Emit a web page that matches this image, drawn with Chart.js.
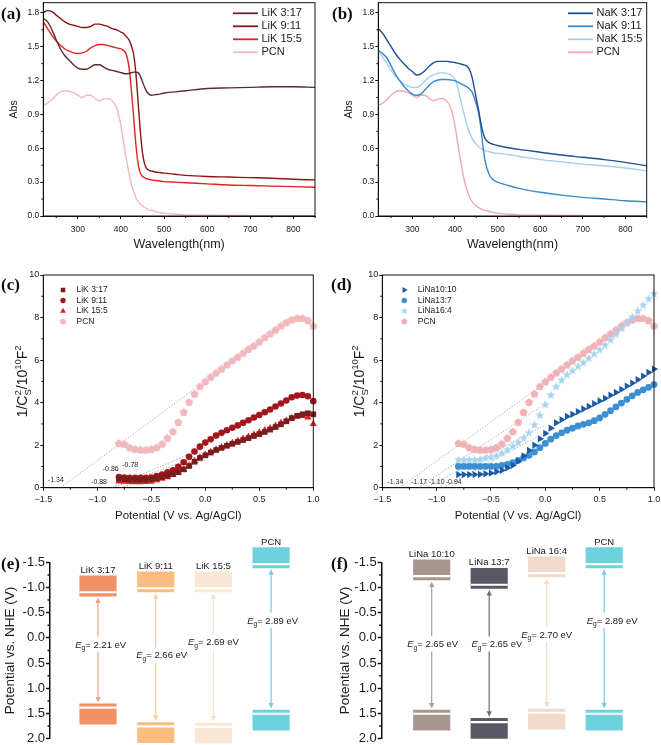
<!DOCTYPE html>
<html>
<head>
  <meta charset="utf-8">
  <title>Absorption spectra, Mott-Schottky plots and band positions</title>
  <script src="https://cdn.jsdelivr.net/npm/chart.js"></script>
  <style>
    body { margin: 0; background: #fff; }
    #figure { position: relative; width: 661px; height: 745px; overflow: hidden; background: #fff; }
    #figure canvas { position: absolute; }
    .tag { position: absolute; font: bold 17px/17px "Liberation Serif", "Times New Roman", serif; color: #111; }
  </style>
</head>
<body>
  <div id="figure">
    <canvas id="chartA" width="330" height="252" style="left:0;top:0"></canvas>
    <canvas id="chartB" width="331" height="252" style="left:330px;top:0"></canvas>
    <canvas id="chartC" width="330" height="275" style="left:0;top:250px"></canvas>
    <canvas id="chartD" width="331" height="275" style="left:330px;top:250px"></canvas>
    <canvas id="chartE" width="330" height="227" style="left:0;top:518px"></canvas>
    <canvas id="chartF" width="331" height="227" style="left:330px;top:518px"></canvas>
    <div class="tag" style="left:1px;top:5px">(a)</div>
    <div class="tag" style="left:332px;top:5px">(b)</div>
    <div class="tag" style="left:1px;top:276px">(c)</div>
    <div class="tag" style="left:331px;top:276px">(d)</div>
    <div class="tag" style="left:1px;top:555px">(e)</div>
    <div class="tag" style="left:331px;top:555px">(f)</div>
  </div>

  <script>
    // ---- UV-vis absorption (a, b) ----
    const wavelength = [220, 230, 240, 250, 260, 270, 280, 290, 300, 310, 320, 330, 340, 350, 360, 370, 380, 390, 400,
      405, 410, 415, 420, 425, 430, 435, 440, 445, 450, 455, 460, 465, 470, 480, 490, 500, 525, 550, 600, 650, 700, 750, 800, 850];
    const absLiK317 = [1.75, 1.72, 1.65, 1.56, 1.48, 1.42, 1.38, 1.34, 1.31, 1.30, 1.30, 1.32, 1.34, 1.34, 1.32, 1.30, 1.29, 1.28, 1.27,
      1.265, 1.26, 1.26, 1.265, 1.27, 1.275, 1.275, 1.27, 1.24, 1.19, 1.14, 1.10, 1.08, 1.07, 1.075, 1.08, 1.09, 1.10, 1.11, 1.13, 1.135, 1.14, 1.145, 1.145, 1.14];
    const absLiK911 = [1.80, 1.82, 1.81, 1.78, 1.75, 1.72, 1.70, 1.69, 1.68, 1.67, 1.67, 1.68, 1.70, 1.70, 1.69, 1.68, 1.66, 1.65, 1.63,
      1.62, 1.60, 1.58, 1.55, 1.50, 1.42, 1.25, 1.00, 0.75, 0.56, 0.46, 0.42, 0.405, 0.40, 0.39, 0.385, 0.38, 0.37, 0.36, 0.35, 0.345, 0.34, 0.335, 0.325, 0.32];
    const absLiK155 = [1.72, 1.66, 1.60, 1.55, 1.51, 1.48, 1.46, 1.445, 1.44, 1.445, 1.46, 1.49, 1.51, 1.52, 1.52, 1.51, 1.50, 1.49, 1.48,
      1.47, 1.45, 1.40, 1.28, 1.08, 0.85, 0.62, 0.46, 0.38, 0.35, 0.34, 0.33, 0.325, 0.32, 0.315, 0.31, 0.305, 0.30, 0.295, 0.285, 0.275, 0.27, 0.265, 0.26, 0.255];
    const absPCN = [0.98, 1.00, 1.03, 1.07, 1.10, 1.11, 1.105, 1.09, 1.07, 1.05, 1.07, 1.07, 1.04, 1.02, 1.035, 1.04, 1.02, 0.96, 0.80,
      0.68, 0.56, 0.45, 0.35, 0.27, 0.21, 0.16, 0.13, 0.105, 0.09, 0.075, 0.065, 0.055, 0.05, 0.04, 0.03, 0.025, 0.015, 0.01, 0.007, 0.005, 0.004, 0.003, 0.003, 0.003];
    const absNaK317 = [1.66, 1.62, 1.56, 1.50, 1.44, 1.39, 1.35, 1.31, 1.28, 1.25, 1.26, 1.29, 1.33, 1.36, 1.37, 1.37, 1.37, 1.365, 1.36,
      1.355, 1.35, 1.345, 1.34, 1.335, 1.32, 1.29, 1.23, 1.14, 1.04, 0.95, 0.84, 0.75, 0.69, 0.65, 0.635, 0.625, 0.605, 0.59, 0.565, 0.54, 0.52, 0.50, 0.475, 0.445];
    const absNaK911 = [1.47, 1.44, 1.40, 1.33, 1.26, 1.20, 1.15, 1.11, 1.08, 1.07, 1.08, 1.12, 1.16, 1.19, 1.205, 1.21, 1.21, 1.205, 1.20,
      1.19, 1.18, 1.17, 1.16, 1.15, 1.14, 1.12, 1.10, 1.05, 0.99, 0.92, 0.80, 0.64, 0.50, 0.37, 0.32, 0.30, 0.27, 0.245, 0.21, 0.185, 0.165, 0.15, 0.135, 0.125];
    const absNaK155 = [1.46, 1.41, 1.35, 1.29, 1.24, 1.20, 1.17, 1.15, 1.14, 1.14, 1.16, 1.20, 1.23, 1.25, 1.265, 1.27, 1.265, 1.25, 1.21,
      1.16, 1.08, 1.00, 0.92, 0.85, 0.78, 0.73, 0.69, 0.66, 0.635, 0.615, 0.60, 0.59, 0.58, 0.57, 0.56, 0.555, 0.545, 0.53, 0.50, 0.48, 0.46, 0.445, 0.425, 0.40];

    // ---- Mott-Schottky (c, d) ----
    const potential = [-0.80, -0.75, -0.70, -0.65, -0.60, -0.55, -0.50, -0.45, -0.40, -0.35, -0.30, -0.25, -0.20, -0.15, -0.10, -0.05,
      0.00, 0.05, 0.10, 0.15, 0.20, 0.25, 0.30, 0.35, 0.40, 0.45, 0.50, 0.55, 0.60, 0.65, 0.70, 0.75, 0.80, 0.85, 0.90, 0.95, 1.00];
    const msPCN = [2.08, 2.04, 1.87, 1.80, 1.77, 1.77, 1.80, 1.88, 2.05, 2.32, 2.63, 3.07, 3.54, 4.01, 4.40, 4.75,
      4.98, 5.19, 5.39, 5.58, 5.77, 5.96, 6.13, 6.32, 6.50, 6.66, 6.85, 7.05, 7.23, 7.41, 7.60, 7.76, 7.88, 7.96, 7.96, 7.85, 7.60];
    const msLiK317 = [0.42, 0.40, 0.38, 0.37, 0.37, 0.38, 0.40, 0.45, 0.50, 0.57, 0.64, 0.73, 0.86, 1.02, 1.22, 1.40,
      1.52, 1.65, 1.77, 1.87, 1.97, 2.06, 2.15, 2.24, 2.33, 2.43, 2.52, 2.62, 2.73, 2.85, 2.98, 3.12, 3.27, 3.38, 3.45, 3.50, 3.45];
    const msLiK911 = [0.50, 0.48, 0.47, 0.46, 0.46, 0.47, 0.48, 0.55, 0.62, 0.72, 0.82, 0.98, 1.20, 1.45, 1.70, 1.93,
      2.12, 2.28, 2.45, 2.58, 2.70, 2.82, 2.93, 3.05, 3.17, 3.30, 3.42, 3.55, 3.68, 3.82, 3.96, 4.10, 4.25, 4.33, 4.36, 4.30, 4.07];
    const msLiK155 = [0.30, 0.28, 0.27, 0.26, 0.26, 0.27, 0.28, 0.35, 0.42, 0.50, 0.60, 0.72, 0.85, 1.05, 1.25, 1.42,
      1.55, 1.68, 1.80, 1.90, 2.00, 2.10, 2.20, 2.30, 2.40, 2.50, 2.60, 2.70, 2.80, 2.92, 3.05, 3.15, 3.28, 3.35, 3.38, 3.30, 3.00];
    const msLiNa1010 = [0.62, 0.62, 0.62, 0.62, 0.63, 0.65, 0.68, 0.75, 0.82, 0.93, 1.05, 1.25, 1.50, 1.75, 2.00, 2.30,
      2.55, 2.80, 3.05, 3.20, 3.35, 3.45, 3.58, 3.70, 3.82, 3.95, 4.08, 4.20, 4.35, 4.48, 4.62, 4.78, 4.92, 5.08, 5.25, 5.42, 5.58];
    const msLiNa137 = [1.00, 1.00, 1.00, 1.00, 1.00, 1.00, 1.00, 1.00, 1.05, 1.10, 1.18, 1.28, 1.40, 1.52, 1.68, 1.88,
      2.08, 2.28, 2.45, 2.58, 2.70, 2.80, 2.90, 2.98, 3.05, 3.15, 3.28, 3.45, 3.62, 3.80, 3.98, 4.15, 4.32, 4.48, 4.60, 4.72, 4.85];
    const msLiNa164 = [1.30, 1.30, 1.30, 1.30, 1.32, 1.38, 1.42, 1.50, 1.62, 1.78, 1.95, 2.12, 2.32, 2.58, 2.95, 3.40,
      3.90, 4.35, 4.75, 5.05, 5.30, 5.50, 5.70, 5.88, 6.08, 6.28, 6.48, 6.70, 6.95, 7.20, 7.48, 7.75, 8.02, 8.30, 8.58, 8.88, 9.12];
    // linear fits: [x, y] start and end
    const fitsC = [[[-1.34, 0], [-0.10, 4.65]], [[-0.88, 0], [0.0, 1.9]], [[-0.86, 0], [0.0, 1.6]], [[-0.78, 0], [0.0, 1.3]]];
    const fitsD = [[[-1.34, 0], [-0.05, 4.75]], [[-1.17, 0], [0.0, 3.95]], [[-1.10, 0], [0.0, 2.95]], [[-0.94, 0], [0.05, 2.75]]];

    // ---- band positions (e, f), V vs NHE ----
    const namesE = ['LiK 3:17', 'LiK 9:11', 'LiK 15:5', 'PCN'];
    const cbE = [-0.83, -0.91, -0.91, -1.39];
    const vbE = [1.31, 1.68, 1.69, 1.43];
    const egE = ['2.21', '2.66', '2.69', '2.89'];
    const namesF = ['LiNa 10:10', 'LiNa 13:7', 'LiNa 16:4', 'PCN'];
    const cbF = [-1.15, -0.98, -1.21, -1.39];
    const vbF = [1.43, 1.595, 1.41, 1.43];
    const egF = ['2.65', '2.65', '2.70', '2.89'];

    // ---- tick labels ----
    const wlTicks = [300, 400, 500, 600, 700, 800];
    const absTicks = [0, 0.3, 0.6, 0.9, 1.2, 1.5, 1.8];
    const potTicks = [-1.5, -1.0, -0.5, 0, 0.5, 1.0];
    const capTicks = [0, 2, 4, 6, 8, 10];
    const nheTicks = [-1.5, -1.0, -0.5, 0, 0.5, 1.0, 1.5, 2.0];

    const FONT = "'Liberation Sans', Arial, Helvetica, sans-serif";
    const BAND_DEPTH = 0.4, EDGE = 0.06, EDGE_W = 0.03;
    Chart.defaults.animation = false;
    Chart.defaults.events = [];
    Chart.defaults.font.family = FONT;
    Chart.defaults.color = '#1a1a1a';
    Chart.defaults.plugins.legend.display = false;
    Chart.defaults.plugins.tooltip.enabled = false;

    function axis(o) {
      return {
        type: 'linear', min: o.min, max: o.max, reverse: !!o.reverse, offset: false,
        afterBuildTicks: s => { s.ticks = o.ticks.map(v => ({ value: v })); },
        afterFit: s => {
          if (s.isHorizontal()) s.height = o.size; else s.width = o.size;
          s.paddingLeft = s.paddingRight = s.paddingTop = s.paddingBottom = 0;
        },
        grid: { drawOnChartArea: false, drawTicks: true, tickLength: o.tick || 3, tickWidth: o.lw || 1, tickColor: '#111' },
        border: { display: true, color: '#111', width: o.lw || 1 },
        ticks: { padding: o.pad, autoSkip: false, maxRotation: 0, color: '#1a1a1a', font: { size: o.font }, callback: o.fmt },
        title: o.title ? { display: true, text: o.title, color: '#1a1a1a', font: { size: o.titleSize }, padding: o.titlePad } : { display: false }
      };
    }
    const minus = v => v.toFixed(1).replace('-', '\u2212');

    // small shapes for markers Chart.js lacks
    function makeShape(n, outer, inner, color) {
      const size = Math.ceil(outer * 2 + 2);
      const c = document.createElement('canvas');
      c.width = size; c.height = size;
      const g = c.getContext('2d');
      g.fillStyle = color;
      g.beginPath();
      const k = inner ? n * 2 : n;
      for (let i = 0; i < k; i++) {
        const r = inner && i % 2 ? inner : outer;
        const a = -Math.PI / 2 + i * 2 * Math.PI / k;
        g.lineTo(size / 2 + r * Math.cos(a), size / 2 + r * Math.sin(a));
      }
      g.closePath();
      g.fill();
      return c;
    }

    function drawMarker(ctx, ds, x, y, k) {
      const style = ds.pointStyle, r = ds.pointRadius * k;
      ctx.save();
      ctx.translate(x, y);
      ctx.rotate((ds.pointRotation || 0) * Math.PI / 180);
      ctx.fillStyle = ds.backgroundColor;
      ctx.beginPath();
      if (style instanceof HTMLCanvasElement) {
        ctx.drawImage(style, -style.width * k / 2, -style.height * k / 2, style.width * k, style.height * k);
      } else if (style === 'rect') {
        ctx.rect(-r * 0.707, -r * 0.707, r * 1.414, r * 1.414); ctx.fill();
      } else if (style === 'triangle') {
        for (let i = 0; i < 3; i++) { const a = i * 2 * Math.PI / 3; ctx.lineTo(r * Math.sin(a), -r * Math.cos(a)); }
        ctx.closePath(); ctx.fill();
      } else {
        ctx.arc(0, 0, r, 0, 2 * Math.PI); ctx.fill();
      }
      ctx.restore();
    }

    // ---- plugins ----
    const frame = () => ({
      id: 'frame',
      afterDatasetsDraw(chart) {
        const { ctx, chartArea: a } = chart;
        ctx.save(); ctx.strokeStyle = '#111'; ctx.lineWidth = 1;
        ctx.strokeRect(a.left, a.top, a.right - a.left, a.bottom - a.top);
        ctx.restore();
      }
    });

    const minorTicks = (len, width) => ({
      id: 'minorTicks',
      afterDraw(chart) {
        const { ctx, chartArea: a } = chart;
        ctx.save(); ctx.strokeStyle = '#111'; ctx.lineWidth = width;
        ['x', 'y'].forEach(id => {
          const sc = chart.scales[id];
          if (!sc || !len[id]) return;
          const t = sc.ticks.map(k => k.value), step = t[1] - t[0];
          ctx.beginPath();
          for (let v = t[0] - step / 2; v <= sc.max + 1e-9; v += step) {
            if (v < sc.min - 1e-9) continue;
            const p = sc.getPixelForValue(v);
            if (id === 'x') { ctx.moveTo(p, a.bottom); ctx.lineTo(p, a.bottom + len.x); }
            else { ctx.moveTo(a.left, p); ctx.lineTo(a.left - len.y, p); }
          }
          ctx.stroke();
        });
        ctx.restore();
      }
    });

    const boxLegend = cfg => ({
      id: 'boxLegend',
      afterDraw(chart) {
        const ctx = chart.ctx;
        ctx.save();
        ctx.font = cfg.font + 'px ' + FONT;
        ctx.textBaseline = 'middle'; ctx.textAlign = 'left';
        let row = 0;
        chart.data.datasets.forEach(ds => {
          if (!ds.label) return;
          const y = cfg.y + row * cfg.dy;
          if (cfg.kind === 'line') {
            ctx.strokeStyle = ds.borderColor; ctx.lineWidth = 1.8;
            ctx.beginPath(); ctx.moveTo(cfg.x0, y); ctx.lineTo(cfg.x1, y); ctx.stroke();
          } else {
            drawMarker(ctx, ds, cfg.x0, y, cfg.k);
          }
          ctx.fillStyle = '#1a1a1a';
          ctx.fillText(ds.label, cfg.tx, y);
          row++;
        });
        ctx.restore();
      }
    });

    const valueNotes = (notes, size) => ({
      id: 'valueNotes',
      afterDatasetsDraw(chart) {
        const { ctx, scales: { x, y } } = chart;
        ctx.save(); ctx.font = size + 'px ' + FONT; ctx.fillStyle = '#222';
        ctx.textAlign = 'center'; ctx.textBaseline = 'middle';
        notes.forEach(n => ctx.fillText(n.t, x.getPixelForValue(n.x), y.getPixelForValue(n.y)));
        ctx.restore();
      }
    });

    // 1/C_S^2 / 10^10 F^2 written with super- and subscripts
    const capTitle = (cx, size) => ({
      id: 'capTitle',
      afterDraw(chart) {
        const ctx = chart.ctx, a = chart.chartArea;
        const big = size + 'px ' + FONT, lit = (size * 0.68) + 'px ' + FONT;
        const parts = [['1/C', big, 0], ['2', lit, -0.42, 'S'], ['/10', big, 0], ['10', lit, -0.42], ['F', big, 0], ['2', lit, -0.42]];
        ctx.save();
        let total = 0;
        const widths = parts.map(p => {
          ctx.font = p[1];
          let w = ctx.measureText(p[0]).width;
          if (p[3]) w = Math.max(w, ctx.measureText(p[3]).width);
          total += w;
          return w;
        });
        ctx.translate(cx, (a.top + a.bottom) / 2);
        ctx.rotate(-Math.PI / 2);
        ctx.fillStyle = '#1a1a1a'; ctx.textAlign = 'left'; ctx.textBaseline = 'alphabetic';
        let x = -total / 2;
        const base = size * 0.36;
        parts.forEach((p, i) => {
          ctx.font = p[1];
          ctx.fillText(p[0], x, base + p[2] * size);
          if (p[3]) ctx.fillText(p[3], x, base + size * 0.25);
          x += widths[i];
        });
        ctx.restore();
      }
    });

    function drawEg(ctx, cx, cy, value, size) {
      const rest = '= ' + value + ' eV';
      ctx.font = 'italic ' + size + 'px ' + FONT; const wE = ctx.measureText('E').width;
      ctx.font = (size * 0.7) + 'px ' + FONT; const wG = ctx.measureText('g').width;
      ctx.font = size + 'px ' + FONT; const wR = ctx.measureText(rest).width;
      const total = wE + wG + wR;
      let x = cx - total / 2;
      ctx.fillStyle = '#fff';
      ctx.fillRect(x - 1, cy - size * 0.8, total + 2, size * 1.6);
      ctx.fillStyle = '#1a1a1a'; ctx.textAlign = 'left'; ctx.textBaseline = 'alphabetic';
      const base = cy + size * 0.35;
      ctx.font = 'italic ' + size + 'px ' + FONT; ctx.fillText('E', x, base); x += wE;
      ctx.font = (size * 0.7) + 'px ' + FONT; ctx.fillText('g', x, base + size * 0.28); x += wG;
      ctx.font = size + 'px ' + FONT; ctx.fillText(rest, x, base);
    }

    const bandNotes = cfg => ({
      id: 'bandNotes',
      afterDatasetsDraw(chart) {
        const { ctx, scales: { x, y } } = chart;
        ctx.save();
        cfg.names.forEach((name, i) => {
          const cx = x.getPixelForValue(i);
          const top = y.getPixelForValue(cfg.cb[i] - BAND_DEPTH);
          ctx.fillStyle = '#1a1a1a'; ctx.font = cfg.nameSize + 'px ' + FONT;
          ctx.textAlign = 'center'; ctx.textBaseline = 'bottom';
          ctx.fillText(name, cx, top - 1);
          const y1 = y.getPixelForValue(cfg.cb[i]) + 1.5, y2 = y.getPixelForValue(cfg.vb[i]) - 1.5;
          ctx.strokeStyle = cfg.arrows[i]; ctx.fillStyle = cfg.arrows[i]; ctx.lineWidth = 1.2;
          ctx.beginPath(); ctx.moveTo(cx, y1 + 5); ctx.lineTo(cx, y2 - 5); ctx.stroke();
          ctx.beginPath(); ctx.moveTo(cx, y1); ctx.lineTo(cx - 2.6, y1 + 5.5); ctx.lineTo(cx + 2.6, y1 + 5.5); ctx.closePath(); ctx.fill();
          ctx.beginPath(); ctx.moveTo(cx, y2); ctx.lineTo(cx - 2.6, y2 - 5.5); ctx.lineTo(cx + 2.6, y2 - 5.5); ctx.closePath(); ctx.fill();
          drawEg(ctx, cx + cfg.dx[i], y.getPixelForValue(cfg.at[i]), cfg.eg[i], cfg.egSize);
        });
        ctx.restore();
      }
    });

    // ---- dataset builders ----
    function lineSet(label, ys, color) {
      return { label, data: wavelength.map((x, i) => ({ x, y: ys[i] })), borderColor: color, backgroundColor: color,
        borderWidth: 1.4, pointRadius: 0, cubicInterpolationMode: 'monotone', fill: false };
    }
    function pointSet(label, ys, shape, radius, color, rotation) {
      return { label, data: potential.map((x, i) => ({ x, y: ys[i] })), pointStyle: shape, pointRadius: radius,
        pointRotation: rotation || 0, backgroundColor: color, pointBackgroundColor: color, borderWidth: 0, pointBorderWidth: 0, clip: false };
    }
    function fitSet(seg) {
      return { data: seg.map(p => ({ x: p[0], y: p[1] })), showLine: true, borderColor: '#8f8f8f', borderWidth: 0.8,
        borderDash: [1.2, 1.8], pointRadius: 0 };
    }
    function bandSets(cb, vb, colors) {
      const idx = cb.map((_, i) => i);
      const bar = (vals, color, order) => ({ data: vals, backgroundColor: color, order, grouped: false, barThickness: 36.5, clip: false, borderWidth: 0 });
      return [
        bar(idx.map(i => ({ x: i, y: [cb[i] - EDGE - EDGE_W, cb[i] - EDGE] })), '#ffffff', 0),
        bar(idx.map(i => ({ x: i, y: [vb[i] + EDGE, vb[i] + EDGE + EDGE_W] })), '#ffffff', 0),
        bar(idx.map(i => ({ x: i, y: [cb[i] - BAND_DEPTH, cb[i]] })), colors, 1),
        bar(idx.map(i => ({ x: i, y: [vb[i], vb[i] + BAND_DEPTH] })), colors, 1)
      ];
    }

    function absChart(id, sets, yAxisWidth, rightPad, titlePad, legendX) {
      new Chart(document.getElementById(id), {
        type: 'line',
        data: { datasets: sets },
        options: {
          responsive: false, devicePixelRatio: 1,
          layout: { padding: { left: 0, top: 2.7, right: rightPad, bottom: 0 }, autoPadding: false },
          scales: {
            x: axis({ min: 220, max: 850, ticks: wlTicks, size: 36, pad: 6, font: 8.5, fmt: v => String(v),
              title: 'Wavelength(nm)', titleSize: 12.5, titlePad: { top: 0, bottom: 0 } }),
            y: axis({ min: 0, max: 1.89, ticks: absTicks, size: yAxisWidth, pad: 1, font: 8.5, fmt: v => v.toFixed(1),
              title: 'Abs', titleSize: 10.5, titlePad: { top: titlePad, bottom: 0 } })
          }
        },
        plugins: [frame(), minorTicks({ x: 2, y: 2 }, 1), boxLegend({ kind: 'line', x0: legendX, x1: legendX + 25, tx: legendX + 28.5, y: 13.3, dy: 13, font: 11 })]
      });
    }

    function msChart(id, sets, yAxisWidth, rightPad, notes, legendX, titleX) {
      new Chart(document.getElementById(id), {
        type: 'scatter',
        data: { datasets: sets },
        options: {
          responsive: false, devicePixelRatio: 1,
          layout: { padding: { left: 0, top: 25, right: rightPad, bottom: 0 }, autoPadding: false },
          scales: {
            x: axis({ min: -1.5, max: 1.0, ticks: potTicks, size: 37.3, pad: 3, font: 9, fmt: minus,
              title: 'Potential (V vs. Ag/AgCl)', titleSize: 11.5, titlePad: { top: 0, bottom: 2 } }),
            y: axis({ min: 0, max: 10, ticks: capTicks, size: yAxisWidth, pad: 1, font: 9, fmt: v => String(v) })
          }
        },
        plugins: [frame(), minorTicks({ x: 2, y: 2 }, 1), valueNotes(notes, 7), capTitle(titleX, 14),
          boxLegend({ kind: 'point', x0: legendX, tx: legendX + 13.5, y: 40, dy: 10.5, font: 8.5, k: 0.8 })]
      });
    }

    function bandChart(id, cb, vb, colors, xMin, xMax, rightPad, yAxisWidth, titlePad, notes) {
      new Chart(document.getElementById(id), {
        type: 'bar',
        data: { datasets: bandSets(cb, vb, colors) },
        options: {
          responsive: false, devicePixelRatio: 1,
          layout: { padding: { left: 0, top: 44.3, right: rightPad, bottom: 6.3 }, autoPadding: false },
          scales: {
            x: { type: 'linear', display: false, min: xMin, max: xMax, offset: false },
            y: axis({ min: -1.5, max: 2.0, reverse: true, ticks: nheTicks, size: yAxisWidth, pad: 1, tick: 4, lw: 1.5, font: 13,
              fmt: v => v.toFixed(1), title: 'Potential vs. NHE (V)', titleSize: 13.5, titlePad: { top: titlePad, bottom: 0 } })
          }
        },
        plugins: [minorTicks({ y: 2.5 }, 1.5), bandNotes(notes)]
      });
    }

    // (a)
    absChart('chartA', [
      lineSet('LiK 3:17', absLiK317, '#5e2b2b'),
      lineSet('LiK 9:11', absLiK911, '#8e1414'),
      lineSet('LiK 15:5', absLiK155, '#e2231d'),
      lineSet('PCN', absPCN, '#f5b8bb')
    ], 43.3, 15, 7.7, 233);

    // (b)
    absChart('chartB', [
      lineSet('NaK 3:17', absNaK317, '#1f4f93'),
      lineSet('NaK 9:11', absNaK911, '#3a89cc'),
      lineSet('NaK 15:5', absNaK155, '#a4cfe9'),
      lineSet('PCN', absPCN, '#f2a9ae')
    ], 48.3, 14.3, 13.2, 238);

    // (c)
    const pcnMark = makeShape(5, 4.3, 0, '#f2b9bd');
    msChart('chartC', [
      pointSet('LiK 3:17', msLiK317, 'rect', 4, '#7b1c1c'),
      pointSet('LiK 9:11', msLiK911, 'circle', 3.3, '#a3161b'),
      pointSet('LiK 15:5', msLiK155, 'triangle', 4.2, '#e3231f'),
      pointSet('PCN', msPCN, pcnMark, 4.3, '#f2b9bd'),
      ...fitsC.map(fitSet)
    ], 43.3, 16.7, [
      { t: '-1.34', x: -1.384, y: 0.36 }, { t: '-0.86', x: -0.876, y: 0.88 },
      { t: '-0.78', x: -0.695, y: 1.07 }, { t: '-0.88', x: -0.984, y: 0.28 }
    ], 63, 22);

    // (d)
    const starMark = makeShape(5, 4.8, 2.0, '#a6d3ef');
    const pcnMarkD = makeShape(5, 4.3, 0, '#efb3b7');
    msChart('chartD', [
      pointSet('LiNa10:10', msLiNa1010, 'triangle', 4.2, '#1c5aa6', 90),
      pointSet('LiNa13:7', msLiNa137, 'circle', 3.4, '#3b8fd3'),
      pointSet('LiNa16:4', msLiNa164, starMark, 4.8, '#a6d3ef'),
      pointSet('PCN', msPCN, pcnMarkD, 4.3, '#efb3b7'),
      ...fitsD.map(fitSet)
    ], 52.3, 7, [
      { t: '-1.34', x: -1.38, y: 0.25 }, { t: '-1.17', x: -1.16, y: 0.25 },
      { t: '-1.10', x: -1.0, y: 0.25 }, { t: '-0.94', x: -0.843, y: 0.25 }
    ], 74.3, 29);

    // (e)
    bandChart('chartE', cbE, vbE, ['#ef9165', '#fbbd7f', '#fbe7d6', '#6ed2dc'], -0.832, 3.674, 20, 50, 2, {
      names: namesE, cb: cbE, vb: vbE, eg: egE, nameSize: 9.5, egSize: 9.5,
      arrows: ['#f2a17f', '#fbcc9c', '#f8e0cc', '#6fd0da'],
      at: [0.13, 0.34, 0.08, -0.35], dx: [2.7, 6, 0, 1.5]
    });

    // (f)
    bandChart('chartF', cbF, vbF, ['#a8958d', '#595966', '#f1dac9', '#6ed2dc'], -0.870, 3.623, 21, 51.7, 7, {
      names: namesF, cb: cbF, vb: vbF, eg: egF, nameSize: 9.5, egSize: 9.5,
      arrows: ['#aa9c96', '#6a6a72', '#f3d9c8', '#6fd0da'],
      at: [0.12, 0.12, -0.07, -0.35], dx: [1, 7.7, 0, 8]
    });
  </script>
</body>
</html>
